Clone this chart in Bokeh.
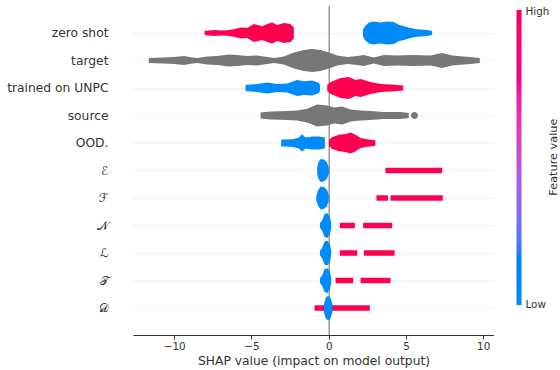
import math
import numpy as np
from bokeh.plotting import figure
from bokeh.layouts import row as bk_row
from bokeh.models import Range1d, FixedTicker, Span, LinearColorMapper, Label
from bokeh.embed import file_html
from bokeh.resources import INLINE

# ---------------- data ----------------
feature_names = ["zero shot", "target", "trained on UNPC", "source", "OOD.",
                 "\u2130", "\u2131", "\U0001D4A9", "\u2112", "\U0001D4AF", "\U0001D49F"]
x_ticks = [-10, -5, 0, 5, 10]
x_tick_labels = ["\u221210", "\u22125", "0", "5", "10"]

# envelope of each swarm: SHAP values (x) and half-thickness in row units (h)
zero_shot_high_x = [-8.07, -7.79, -7.36, -7.04, -6.6, -6.17, -5.74, -5.31, -4.88, -4.34, -4.01, -3.69, -3.37, -2.94, -2.51, -2.29]
zero_shot_high_h = [0.08, 0.09, 0.11, 0.09, 0.1, 0.14, 0.2, 0.18, 0.33, 0.25, 0.33, 0.38, 0.29, 0.36, 0.33, 0.2]
zero_shot_low_x = [2.18, 2.31, 2.57, 2.89, 3.32, 3.75, 4.18, 4.5, 4.83, 5.26, 5.69, 6.12, 6.44, 6.66]
zero_shot_low_h = [0.12, 0.25, 0.38, 0.42, 0.38, 0.42, 0.4, 0.3, 0.25, 0.18, 0.14, 0.12, 0.1, 0.07]

target_x = [-11.68, -10.7, -10.05, -9.4, -8.86, -8.54, -7.89, -7.25, -6.49, -5.96, -5.31, -4.66, -4.01, -3.58,
            -2.94, -2.29, -1.64, -1.1, -0.56, -0.02, 0.52, 1.17, 1.81, 2.24, 2.89, 3.53, 4.40, 5.48, 6.56, 7.31,
            7.96, 8.71, 9.15, 9.75]
target_h = [0.09, 0.11, 0.13, 0.16, 0.11, 0.09, 0.145, 0.16, 0.22, 0.2, 0.16, 0.18, 0.13, 0.09,
            0.145, 0.29, 0.38, 0.42, 0.38, 0.29, 0.18, 0.13, 0.16, 0.2, 0.11, 0.2, 0.18, 0.2, 0.18, 0.27,
            0.18, 0.145, 0.13, 0.09]

unpc_low_x = [-5.42, -4.66, -4.01, -3.37, -2.72, -2.08, -1.64, -1.1, -0.67, -0.6]
unpc_low_h = [0.11, 0.145, 0.2, 0.145, 0.16, 0.29, 0.25, 0.27, 0.18, 0.11]
unpc_high_x = [-0.13, 0.09, 0.74, 1.28, 1.71, 2.03, 2.67, 3.32, 3.97, 4.40, 4.79]
unpc_high_h = [0.11, 0.22, 0.36, 0.4, 0.29, 0.33, 0.22, 0.145, 0.13, 0.11, 0.09]

source_x = [-4.45, -3.8, -2.72, -2.08, -1.43, -0.78, -0.13, 0.31, 0.85, 1.39, 2.03, 2.67, 3.53, 4.61, 5.15]
source_h = [0.11, 0.145, 0.16, 0.18, 0.25, 0.4, 0.36, 0.29, 0.33, 0.22, 0.18, 0.16, 0.13, 0.13, 0.09]
source_outlier_x = [5.52]

ood_low_x = [-3.11, -2.72, -2.29, -1.97, -1.75, -1.54, -1.1, -0.67, -0.28]
ood_low_h = [0.13, 0.13, 0.15, 0.2, 0.32, 0.2, 0.24, 0.24, 0.2]
ood_high_x = [-0.02, 0.2, 0.63, 1.06, 1.39, 1.71, 2.03, 2.46, 2.99]
ood_high_h = [0.12, 0.22, 0.3, 0.33, 0.38, 0.3, 0.18, 0.14, 0.1]

e_low_x = [-0.78, -0.7, -0.55, -0.35, -0.15, -0.02]
e_low_h = [0.1, 0.3, 0.42, 0.4, 0.3, 0.1]
e_high_x = [3.64, 5.0, 7.31]
e_high_h = [0.1, 0.1, 0.1]

f_low_x = [-0.84, -0.7, -0.55, -0.35, -0.15, -0.02]
f_low_h = [0.08, 0.3, 0.42, 0.4, 0.3, 0.1]
f_high1_x = [3.06, 3.8]
f_high2_x = [3.97, 7.35]

n_low_x = [-0.6, -0.45, -0.3, -0.1, 0.05, 0.13]
n_low_h = [0.08, 0.2, 0.42, 0.45, 0.3, 0.08]
n_high1_x = [0.69, 1.66]
n_high2_x = [2.2, 4.08]

l_low_x = [-0.6, -0.45, -0.3, -0.1, 0.05, 0.13]
l_low_h = [0.08, 0.2, 0.42, 0.45, 0.3, 0.08]
l_high1_x = [0.69, 1.81]
l_high2_x = [2.24, 4.23]

t_low_x = [-0.6, -0.45, -0.3, -0.1, 0.05, 0.13]
t_low_h = [0.08, 0.2, 0.42, 0.45, 0.3, 0.08]
t_high1_x = [0.41, 1.55]
t_high2_x = [2.03, 3.97]

d_high_x = [-0.95, 2.63]
d_low_x = [-0.35, -0.2, -0.05, 0.1, 0.23]
d_low_h = [0.15, 0.4, 0.45, 0.35, 0.1]

thin_h = [0.1, 0.1]

# (row, colour key, x, h) ; row 10 is the top feature
segments = [
    (10, "high", zero_shot_high_x, zero_shot_high_h),
    (10, "low", zero_shot_low_x, zero_shot_low_h),
    (9, "none", target_x, target_h),
    (8, "low", unpc_low_x, unpc_low_h),
    (8, "high", unpc_high_x, unpc_high_h),
    (7, "none", source_x, source_h),
    (6, "low", ood_low_x, ood_low_h),
    (6, "high", ood_high_x, ood_high_h),
    (5, "low", e_low_x, e_low_h),
    (5, "high", e_high_x, e_high_h),
    (4, "low", f_low_x, f_low_h),
    (4, "high", f_high1_x, thin_h),
    (4, "high", f_high2_x, thin_h),
    (3, "low", n_low_x, n_low_h),
    (3, "high", n_high1_x, thin_h),
    (3, "high", n_high2_x, thin_h),
    (2, "low", l_low_x, l_low_h),
    (2, "high", l_high1_x, thin_h),
    (2, "high", l_high2_x, thin_h),
    (1, "low", t_low_x, t_low_h),
    (1, "high", t_high1_x, thin_h),
    (1, "high", t_high2_x, thin_h),
    (0, "high", d_high_x, thin_h),
    (0, "low", d_low_x, d_low_h),
]

# ---------------- styling ----------------
COL = {"high": "#ff0051", "low": "#008bfb", "none": "#777777"}
FONT = "DejaVu Sans"
TXT = "#333333"


def lch_to_hex(L, C, h):
    a, b = C * math.cos(h), C * math.sin(h)
    fy = (L + 16) / 116.0
    fx, fz = fy + a / 500.0, fy - b / 200.0

    def finv(t):
        return t ** 3 if t ** 3 > 0.008856 else (t - 16 / 116.0) / 7.787

    X, Y, Z = 0.95047 * finv(fx), finv(fy), 1.08883 * finv(fz)
    rl = 3.2406 * X - 1.5372 * Y - 0.4986 * Z
    gl = -0.9689 * X + 1.8758 * Y + 0.0415 * Z
    bl = 0.0557 * X - 0.2040 * Y + 1.0570 * Z

    def gam(c):
        c = 1.055 * c ** (1 / 2.4) - 0.055 if c > 0.0031308 else 12.92 * c
        return int(round(min(1, max(0, c)) * 255))

    return "#%02x%02x%02x" % (gam(rl), gam(gl), gam(bl))


blue_lch = (54.0, 70.0, 4.6588)
red_lch = (54.0, 90.0, 0.35470565 + 2 * math.pi)
palette = [lch_to_hex(*[(1 - i / 255.0) * bl + (i / 255.0) * rd for bl, rd in zip(blue_lch, red_lch)])
           for i in range(256)]

n_rows = len(feature_names)
H = 370
p = figure(width=494, height=H, x_range=Range1d(-12.67, 10.7), y_range=Range1d(-1, n_rows),
           output_backend="svg", toolbar_location=None,
           min_border_left=133, min_border_right=0, min_border_top=5, min_border_bottom=34)
p.outline_line_color = None
p.background_fill_color = "white"

p.add_layout(Span(location=0, dimension="height", line_color="#999999", line_width=1.5, level="underlay"))

for r, key, xs, hs in segments:
    p.varea(x=xs, y1=[r - h for h in hs], y2=[r + h for h in hs], fill_color=COL[key], fill_alpha=1.0)
p.scatter(x=source_outlier_x, y=[7] * len(source_outlier_x), size=6, color=COL["none"])

rows = list(range(n_rows))
p.yaxis.ticker = FixedTicker(ticks=rows)
p.yaxis.major_label_overrides = {n_rows - 1 - i: name for i, name in enumerate(feature_names)}
p.yaxis.axis_line_color = None
p.yaxis.major_tick_line_color = None
p.yaxis.minor_tick_line_color = None
p.yaxis.major_tick_out = 0
p.yaxis.major_label_standoff = 25
p.yaxis.major_label_text_font = FONT
p.yaxis.major_label_text_font_size = "12.3px"
p.yaxis.major_label_text_color = TXT

p.xaxis.ticker = FixedTicker(ticks=x_ticks)
p.xaxis.major_label_overrides = dict(zip(x_ticks, x_tick_labels))
p.xaxis.axis_line_color = TXT
p.xaxis.major_tick_line_color = TXT
p.xaxis.minor_tick_line_color = None
p.xaxis.major_tick_out = 4
p.xaxis.major_tick_in = 0
p.xaxis.major_label_standoff = 2
p.xaxis.major_label_text_font = FONT
p.xaxis.major_label_text_font_size = "10.4px"
p.xaxis.major_label_text_color = TXT
p.xaxis.axis_label = "SHAP value (impact on model output)"
p.xaxis.axis_label_text_font = FONT
p.xaxis.axis_label_text_font_size = "12.3px"
p.xaxis.axis_label_text_font_style = "normal"
p.xaxis.axis_label_text_color = TXT
p.xaxis.axis_label_standoff = 1

p.xgrid.visible = False
p.ygrid.ticker = FixedTicker(ticks=rows)
p.ygrid.grid_line_color = "#cccccc"
p.ygrid.grid_line_width = 1
p.ygrid.grid_line_dash = "1 3"

# ---------------- colour bar (separate narrow panel, pixel coordinates) ----------------
CW = 66
c = figure(width=CW, height=H, x_range=Range1d(0, CW), y_range=Range1d(0, H),
           output_backend="svg", toolbar_location=None, min_border=0,
           x_axis_location=None, y_axis_location=None)
c.outline_line_color = None
c.grid.visible = False
mapper = LinearColorMapper(palette=palette, low=0, high=1)
ramp = np.linspace(0, 1, 256).reshape(256, 1)
c.image(image=[ramp], x=22, y=34, dw=5, dh=331, color_mapper=mapper)
c.add_layout(Label(x=31, y=364, text="High", text_align="left", text_baseline="middle",
                   text_font=FONT, text_font_size="10.4px", text_color=TXT))
c.add_layout(Label(x=31, y=35, text="Low", text_align="left", text_baseline="middle",
                   text_font=FONT, text_font_size="10.4px", text_color=TXT))
c.add_layout(Label(x=59, y=200, text="Feature value", angle=math.pi / 2, text_align="center",
                   text_baseline="middle", text_font=FONT, text_font_size="11.3px", text_color=TXT))

layout = bk_row(p, c)
open("out.html", "w").write(file_html(layout, INLINE))
